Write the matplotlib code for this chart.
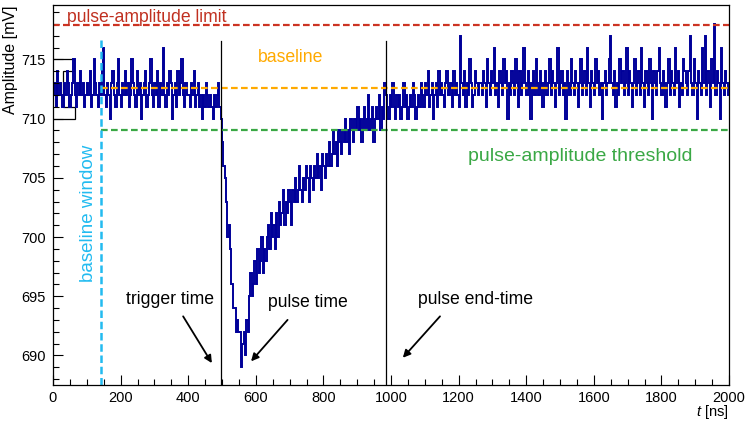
import numpy as np
import matplotlib
matplotlib.use("Agg")
import matplotlib.pyplot as plt

plt.rcParams['font.family'] = ['Liberation Sans', 'DejaVu Sans']
plt.rcParams['mathtext.fontset'] = 'custom'
plt.rcParams['mathtext.it'] = 'Liberation Sans:italic'
plt.rcParams['mathtext.rm'] = 'Liberation Sans'

# sampled waveform, 4 ns per sample, amplitude in mV
dt = 4
pre_trigger = [
    712, 713, 711, 714, 712, 713, 712, 711, 713, 712, 714, 713, 711, 712, 713, 715, 712, 711, 713, 712, 714, 712, 713, 711, 712,
    713, 712, 714, 711, 712, 715, 713, 712, 711, 713, 712, 714, 716, 712, 711, 713, 712, 710, 713, 714, 712, 711, 713, 715, 712,
    711, 713, 712, 714, 712, 713, 711, 712, 715, 713, 712, 711, 714, 712, 713, 710, 712, 713, 714, 711, 712, 713, 715, 712, 711,
    713, 712, 714, 711, 713, 712, 716, 712, 711, 713, 712, 714, 713, 710, 712, 713, 711, 714, 712, 713, 715, 712, 711, 713, 712,
    712, 711, 713, 712, 714, 711, 712, 713, 711, 712, 710, 712, 711, 713, 712, 711, 712, 711, 710, 712, 711, 712, 713, 711,
]
pulse = [
    710, 708, 706, 705, 703, 700, 701, 699, 696, 694,
    694, 692, 693, 692, 692, 689, 691, 692, 690, 693,
    692, 695, 697, 695, 696, 698, 696, 699, 697, 698,
    700, 697, 699, 698, 700, 701, 699, 702, 700, 701,
    699, 702, 700, 703, 701, 702, 704, 701, 703, 702,
    704, 703, 701, 704, 703, 705, 703, 704, 706, 704,
    703, 705, 704, 706, 705, 703, 706, 705, 704, 706,
    705, 707, 705, 706, 704, 707, 706, 705, 707, 706,
    708, 706, 707, 709, 707, 708, 706, 709, 708, 707,
    709, 708, 710, 708, 709, 707, 710, 709, 708, 710,
    709, 711, 709, 710, 708, 710, 711, 709, 710, 712,
    709, 710, 711, 708, 710, 711, 710, 712, 709, 711,
    710, 713, 712,
]
recovery = [
    711, 710, 712, 711, 713, 711, 710, 712, 711, 712, 710, 711, 713, 711, 712, 710, 711, 712, 711, 713, 712, 710, 711, 712, 711, 713,
    712, 711, 713, 712, 714, 711, 712, 713, 710, 712, 713, 711, 714, 712, 713, 712, 711, 713, 714, 712, 712, 713, 711, 714, 712,
    713, 712, 711, 717, 713, 712, 714, 711, 713, 712, 715, 713, 711, 712, 714, 713, 712, 713,
]
tail = [
    713, 712, 714, 713, 711, 715, 713, 712, 714, 713, 716, 712, 713, 711, 714, 713, 712, 715, 713, 714, 710, 713, 712,
    714, 713, 712, 715, 713, 711, 714, 712, 713, 716, 713, 712, 714, 713, 710, 713, 714, 712, 715, 713, 712, 714, 713,
    711, 713, 714, 712, 713, 715, 712, 714, 713, 711, 713, 716, 712, 713, 714, 712, 713, 710, 714, 713, 712, 715, 713,
    712, 714, 713, 711, 713, 715, 712, 713, 714, 712, 716, 713, 711, 714, 713, 712, 715, 713, 714, 712, 713, 710, 713,
    714, 712, 713, 715, 717, 713, 712, 714, 711, 713, 712, 715, 713, 714, 712, 713, 716, 712, 714, 713, 711, 713, 715,
    712, 713, 714, 712, 716, 713, 711, 714, 713, 712, 715, 713, 710, 714, 713, 712, 714, 716, 713, 712, 714, 713, 711,
    713, 715, 712, 714, 713, 712, 716, 713, 714, 711, 713, 712, 715, 714, 713, 712, 714, 717, 713, 712, 715, 713, 710,
    714, 713, 712, 716, 713, 717, 712, 714, 713, 711, 715, 713, 718, 712, 714, 713, 710, 716, 713, 712, 714, 713, 712,
]
amplitude = pre_trigger + pulse + recovery + tail

# amplitude distribution of the baseline window (drawn sideways)
dist_edges = [710, 711, 712, 713, 714, 715]
dist_counts = [64, 30, 30, 30, 62]

baseline = 712.55
threshold = 709.05
amp_limit = 717.9
window_end = 142
trigger_time = 496
pulse_time = 558
end_time = 985

fig = plt.figure(figsize=(7.47, 4.22), dpi=100)
ax = fig.add_axes([53 / 747, 37 / 422, 676 / 747, 380 / 422])
ymin, ymax = 687.5, 719.6

edges = np.arange(len(amplitude) + 1) * dt
ax.stairs(dist_counts, dist_edges, orientation='horizontal', baseline=0, color='black', lw=0.9)
ax.stairs(amplitude, edges, baseline=None, color='#000099', lw=1.4)

dash = (0, (3, 1.5))
ax.plot([0, 2000], [amp_limit, amp_limit], color='#cc3322', lw=1.6, ls=dash)
ax.plot([window_end, 2000], [baseline, baseline], color='#ffaa00', lw=1.6, ls=dash)
ax.plot([window_end, 2000], [threshold, threshold], color='#3aa845', lw=1.6, ls=dash)
ax.plot([window_end, window_end], [ymin, 716.8], color='#22bbf0', lw=1.8, ls=dash)
ax.plot([trigger_time, trigger_time], [ymin, 716.6], color='black', lw=0.9)
ax.plot([end_time, end_time], [ymin, 716.6], color='black', lw=0.9)

fs = 12.7
ax.text(41, 718.15, 'pulse-amplitude limit', color='#c03020', fontsize=fs, va='baseline')
ax.text(704, 714.8, 'baseline', color='#ffaa00', fontsize=fs, ha='center', va='baseline')
ax.text(1228, 706.4, 'pulse-amplitude threshold', color='#3aa845', fontsize=14, va='baseline')
ax.text(104, 702.0, 'baseline window', color='#22bbf0', fontsize=13.5, rotation=90, ha='center', va='center')

arrow = dict(arrowstyle='-|>', color='black', lw=1.3, mutation_scale=11, shrinkA=0, shrinkB=0)
ax.text(345, 694.7, 'trigger time', fontsize=fs, ha='center', va='center')
ax.annotate('', xy=(470, 689.35), xytext=(385, 693.3), arrowprops=arrow)
ax.text(754, 694.5, 'pulse time', fontsize=fs, ha='center', va='center')
ax.annotate('', xy=(586, 689.5), xytext=(694, 693.0), arrowprops=arrow)
ax.text(1249, 694.7, 'pulse end-time', fontsize=fs, ha='center', va='center')
ax.annotate('', xy=(1035, 689.8), xytext=(1145, 693.3), arrowprops=arrow)

ax.set_xlim(0, 2000)
ax.set_ylim(ymin, ymax)
ax.set_xticks(np.arange(0, 2001, 200))
ax.set_xticks(np.arange(0, 2001, 50), minor=True)
ax.set_yticks(np.arange(690, 716, 5))
ax.set_yticks(np.arange(688, 720, 1), minor=True)
ax.tick_params(which='both', direction='in', width=0.8, labelsize=10.5)
ax.tick_params(which='major', length=7.5)
ax.tick_params(which='minor', length=4)
ax.tick_params(axis='y', pad=5)
ax.tick_params(axis='x', pad=4)
for s in ax.spines.values():
    s.set_linewidth(0.9)

fig.text(0.014, 0.988, 'Amplitude [mV]', rotation=90, ha='center', va='top', fontsize=11.5)
fig.text(729 / 747, 1 - 412 / 422, r'$t$ [ns]', ha='right', va='center', fontsize=10.5)

fig.savefig('out.png', dpi=100)
